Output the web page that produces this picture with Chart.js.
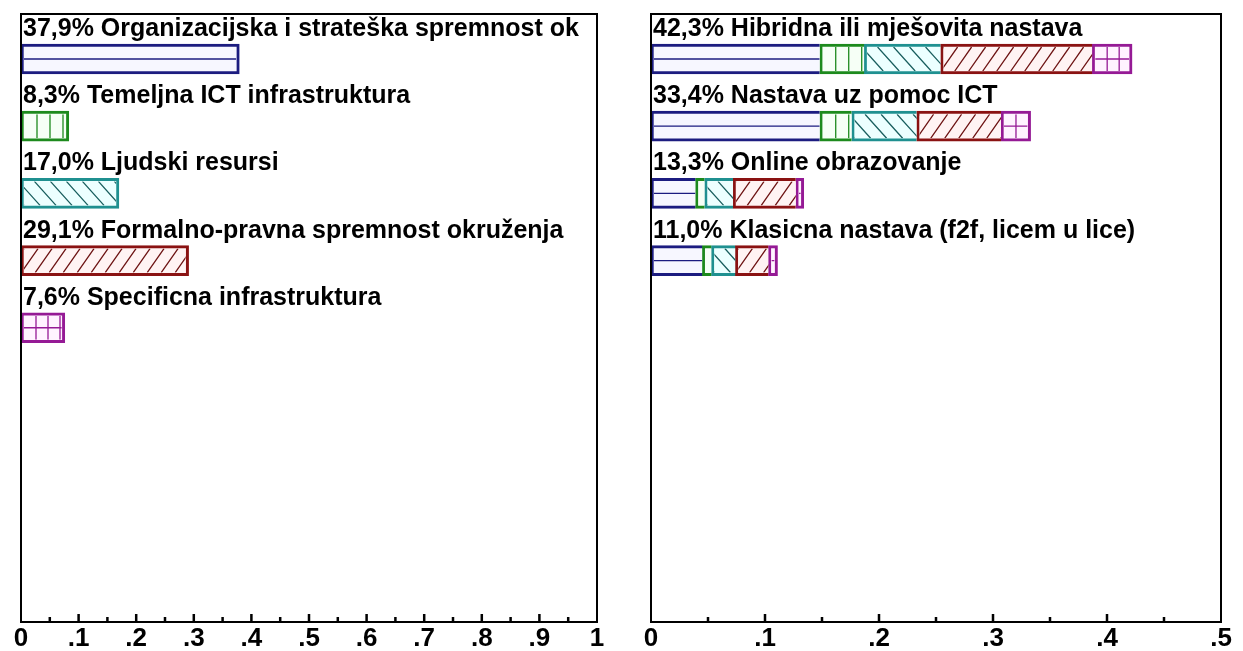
<!DOCTYPE html>
<html><head><meta charset="utf-8">
<script src="https://cdn.jsdelivr.net/npm/chart.js@4.4.0/dist/chart.umd.min.js"></script>
<style>
html,body{margin:0;padding:0;background:#fff;width:1243px;height:651px;overflow:hidden}
#c1{position:absolute;left:0;top:0}
#c2{position:absolute;left:620px;top:0}
</style></head><body>
<canvas id="c1" width="620" height="651"></canvas>
<canvas id="c2" width="623" height="651"></canvas>
<script>
// ---- data ----
const leftLabels = [
  "37,9% Organizacijska i strateška spremnost ok",
  "8,3% Temeljna ICT infrastruktura",
  "17,0% Ljudski resursi",
  "29,1% Formalno-pravna spremnost okruženja",
  "7,6% Specificna infrastruktura"
];
const leftValues = [0.379, 0.083, 0.170, 0.291, 0.076];

const rightLabels = [
  "42,3% Hibridna ili mješovita nastava",
  "33,4% Nastava uz pomoc ICT",
  "13,3% Online obrazovanje",
  "11,0% Klasicna nastava (f2f, licem u lice)"
];
const rightOrg      = [0.148, 0.148, 0.039, 0.045];
const rightIct      = [0.039, 0.028, 0.008, 0.008];
const rightPeople   = [0.067, 0.057, 0.025, 0.021];
const rightLegal    = [0.133, 0.074, 0.055, 0.029];
const rightSpecific = [0.035, 0.026, 0.007, 0.008];

const leftTickValues  = [0, 0.1, 0.2, 0.3, 0.4, 0.5, 0.6, 0.7, 0.8, 0.9, 1];
const leftTickLabels  = ["0", ".1", ".2", ".3", ".4", ".5", ".6", ".7", ".8", ".9", "1"];
const rightTickValues = [0, 0.1, 0.2, 0.3, 0.4, 0.5];
const rightTickLabels = ["0", ".1", ".2", ".3", ".4", ".5"];

// ---- styles ----
const FONT = "'Liberation Sans', Arial, sans-serif";
const STY = [
  {border:'#1c1c80', fill:'#f7f7ff', hatch:'#1c1c80', type:'h'},
  {border:'#1d8a1d', fill:'#f6fff6', hatch:'#1d8a1d', type:'v'},
  {border:'#1f9090', fill:'#ecffff', hatch:'#1a5f5f', type:'b'},
  {border:'#8a1212', fill:'#fff3f3', hatch:'#6e1414', type:'f'},
  {border:'#951a95', fill:'#fff3ff', hatch:'#951a95', type:'g'}
];
const BW = 3;

function hatch(ctx, l, t, r, b, type, color){
  if (r - l <= 0) return;
  ctx.save();
  ctx.beginPath(); ctx.rect(l, t, r - l, b - t); ctx.clip();
  ctx.strokeStyle = color; ctx.lineWidth = 1.3;
  ctx.beginPath();
  const my = (t + b) / 2, h = b - t;
  if (type === 'h' || type === 'g') { ctx.moveTo(l, my); ctx.lineTo(r, my); }
  if (type === 'v') { for (let x = l + 13; x < r; x += 13) { ctx.moveTo(x, t); ctx.lineTo(x, b); } }
  if (type === 'g') { for (let x = l + 12; x < r; x += 12) { ctx.moveTo(x, t); ctx.lineTo(x, b); } }
  if (type === 'b') { const run = h * 0.9; for (let x = l - run; x < r + run; x += 16) { ctx.moveTo(x, t); ctx.lineTo(x + run, b); } }
  if (type === 'f') { const run = h * 0.7; for (let x = l; x < r + run; x += 14) { ctx.moveTo(x, t); ctx.lineTo(x - run, b); } }
  ctx.stroke();
  ctx.restore();
}

function makePlugins(labels, mode, tickVals){
  return [{
    id: 'deco',
    afterDatasetsDraw(chart){
      const ctx = chart.ctx;
      const nds = chart.data.datasets.length;
      chart.data.datasets.forEach((ds, di) => {
        const meta = chart.getDatasetMeta(di);
        meta.data.forEach((el, i) => {
          const p = el.getProps(['x','y','base','height'], true);
          const l = Math.min(p.x, p.base), r = Math.max(p.x, p.base);
          const t = p.y - p.height / 2, b = p.y + p.height / 2;
          const s = mode === 'single' ? STY[i] : STY[di];
          const rightInset = (mode === 'single' || di === nds - 1) ? BW : 0;
          hatch(ctx, l + BW, t + BW, r - rightInset, b - BW, s.type, s.hatch);
        });
      });
      // labels above bars
      const ys = chart.scales.y, ca = chart.chartArea;
      ctx.save();
      ctx.fillStyle = '#000';
      ctx.font = 'bold 25px ' + FONT;
      ctx.textAlign = 'left'; ctx.textBaseline = 'alphabetic';
      labels.forEach((lab, i) => ctx.fillText(lab, ca.left + 2, ys.getPixelForValue(i) - 23));
      ctx.restore();
    },
    afterDraw(chart){
      const ctx = chart.ctx, ca = chart.chartArea, xs = chart.scales.x;
      ctx.save();
      ctx.strokeStyle = '#000'; ctx.lineWidth = 2;
      ctx.strokeRect(ca.left, ca.top, ca.right - ca.left, ca.bottom - ca.top);
      ctx.lineWidth = 2.5;
      ctx.beginPath();
      for (let k = 0; k < tickVals.length - 1; k++) {
        const a = tickVals[k], c = tickVals[k + 1];
        if (k > 0) { const x = xs.getPixelForValue(a); ctx.moveTo(x, ca.bottom); ctx.lineTo(x, ca.bottom - 8); }
        const xm = xs.getPixelForValue((a + c) / 2); ctx.moveTo(xm, ca.bottom); ctx.lineTo(xm, ca.bottom - 5);
      }
      ctx.stroke();
      ctx.restore();
    }
  }];
}

function xAxis(max, vals, labs){
  return {
    type: 'linear', min: 0, max: max, position: 'bottom', offset: false,
    grid: {display: false, drawTicks: false}, border: {display: false},
    afterBuildTicks: s => { s.ticks = vals.map(v => ({value: v})); },
    ticks: {
      autoSkip: false, maxRotation: 0, padding: 1, color: '#000',
      font: {family: FONT, size: 26, weight: 'bold'},
      callback: (v, i) => labs[i]
    },
    afterFit: s => { s.height = 29; }
  };
}
const yAxis = {type: 'linear', reverse: true, offset: false, min: -0.67, max: 8.38, display: false};

const common = {
  responsive: false, animation: false, indexAxis: 'y', events: [],
  plugins: {legend: {display: false}, tooltip: {enabled: false}},
};

// Left chart
new Chart(document.getElementById('c1'), {
  type: 'bar',
  data: {
    datasets: [{
      data: leftValues.map((v, i) => ({x: v, y: i})),
      backgroundColor: STY.map(s => s.fill),
      borderColor: STY.map(s => s.border),
      borderWidth: BW, borderSkipped: false, barThickness: 30
    }]
  },
  options: Object.assign({}, common, {
    layout: {padding: {left: 21, right: 23, top: 14, bottom: 0}},
    scales: {x: xAxis(1, leftTickValues, leftTickLabels), y: yAxis}
  }),
  plugins: makePlugins(leftLabels, 'single', leftTickValues)
});

// Right chart
const rightSeries = [rightOrg, rightIct, rightPeople, rightLegal, rightSpecific];
new Chart(document.getElementById('c2'), {
  type: 'bar',
  data: {
    datasets: rightSeries.map((arr, di) => ({
      data: arr.map((v, i) => ({x: v, y: i})),
      backgroundColor: STY[di].fill,
      borderColor: STY[di].border,
      borderWidth: BW,
      borderSkipped: di === rightSeries.length - 1 ? false : 'end',
      barThickness: 30
    }))
  },
  options: Object.assign({}, common, {
    layout: {padding: {left: 31, right: 22, top: 14, bottom: 0}},
    scales: {
      x: Object.assign(xAxis(0.5, rightTickValues, rightTickLabels), {stacked: true}),
      y: Object.assign({}, yAxis, {stacked: true})
    }
  }),
  plugins: makePlugins(rightLabels, 'stacked', rightTickValues)
});
</script>
</body></html>
